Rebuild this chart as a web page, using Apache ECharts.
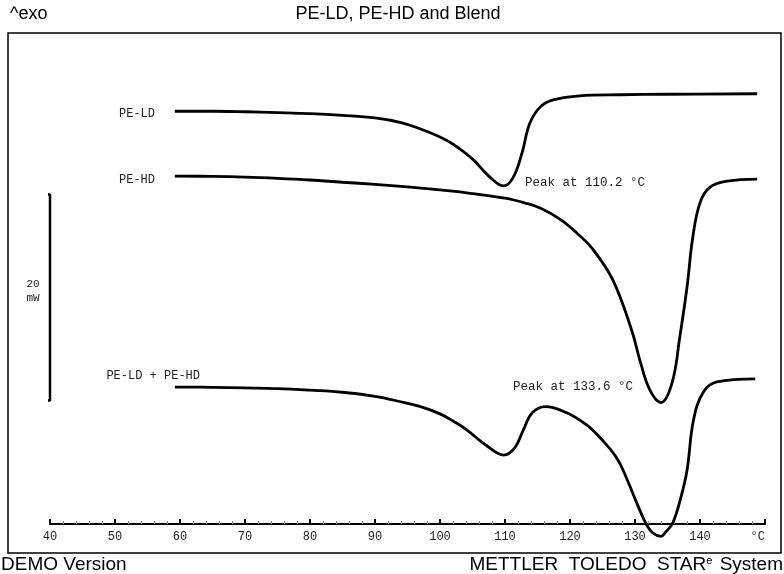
<!DOCTYPE html>
<html>
<head>
<meta charset="utf-8">
<script src="https://cdn.jsdelivr.net/npm/echarts@6/dist/echarts.min.js"></script>
<style>
  html, body { margin: 0; padding: 0; background: #fff; }
  #chart { width: 784px; height: 574px; }
</style>
</head>
<body>
<div id="chart"></div>
<script>
// temperature in degC, heat flow in mW (exo up)
var peLD = [
  [59.2, 40.1], [65, 40.1], [70, 40.05], [75, 39.97], [80, 39.87], [85, 39.7], [90, 39.45],
  [94, 39.0], [96.9, 38.4], [100, 37.6], [102, 36.9], [105.1, 35.4], [107.5, 33.8],
  [109.8, 32.85], [111.2, 33.6], [112.6, 36.0], [113.8, 38.9], [115.4, 40.5],
  [117.4, 41.2], [121.5, 41.6], [127.7, 41.7], [135, 41.75], [148.8, 41.8]
];
var peHD = [
  [59.2, 33.8], [65, 33.77], [70, 33.7], [75, 33.58], [80, 33.42], [85, 33.2], [90, 33.0],
  [95, 32.75], [100, 32.45], [105, 32.1], [110, 31.65], [113, 31.2], [115.4, 30.7],
  [118.5, 29.6], [121, 28.3], [123.5, 26.7], [126.6, 23.7], [129.5, 18.8], [130.8, 15.8],
  [132.3, 13.0], [134, 11.8], [135.7, 13.7], [136.9, 18.2], [138, 23.0],
  [138.9, 27.9], [140, 31.2], [141.5, 32.7], [144.2, 33.3], [148.8, 33.5]
];
var blend = [
  [59.2, 13.3], [65, 13.28], [70, 13.22], [75, 13.15], [80, 13.0], [85, 12.8], [90, 12.4],
  [93.8, 11.9], [97, 11.4], [100, 10.7], [102, 10.0], [104, 9.2], [107.2, 7.6],
  [109.8, 6.7], [111.5, 7.4], [112.8, 9.1], [114.2, 10.8], [116.2, 11.4], [119.5, 10.8],
  [122.6, 9.6], [124.6, 8.4], [127.2, 6.4], [128.8, 4.3], [130.3, 2.0], [131.8, -0.1],
  [132.8, -0.9], [134, -1.2], [134.7, -0.8], [135.8, 0.1], [136.9, 2.2],
  [138, 5.2], [139, 10.1], [140.5, 12.8], [142.6, 13.8], [148.5, 14.1]
];
// 20 mW scale bar at the left
var scaleBar = [[39.2, 32], [40, 32], [40, 12], [39.2, 12]];

var curveNames = ['PE-LD', 'PE-HD', 'PE-LD + PE-HD'];
var peakTexts = ['Peak at 110.2 °C', 'Peak at 133.6 °C'];

var mono = '"Liberation Mono", "DejaVu Sans Mono", monospace';
var sans = '"Liberation Sans", Arial, sans-serif';

function curve(name, data) {
  return {
    name: name,
    type: 'line',
    data: data,
    smooth: 0.4,
    symbol: 'none',
    clip: false,
    lineStyle: { color: '#000', width: 2.8 }
  };
}

var chart = echarts.init(document.getElementById('chart'));
chart.setOption({
  animation: false,
  backgroundColor: '#fff',
  grid: { left: 50, right: 19, top: 33, bottom: 50 },
  xAxis: {
    type: 'value',
    min: 40,
    max: 150,
    interval: 10,
    axisLine: { lineStyle: { color: '#000', width: 2 } },
    axisTick: { inside: true, length: 5, lineStyle: { color: '#000', width: 2 } },
    minorTick: { show: true, splitNumber: 5, length: 3, lineStyle: { color: '#888', width: 1 } },
    splitLine: { show: false },
    axisLabel: {
      margin: 7,
      color: '#222',
      fontFamily: mono,
      fontSize: 12,
      alignMaxLabel: 'right',
      formatter: function (v) { return v === 150 ? '°C' : String(v); }
    }
  },
  yAxis: {
    type: 'value',
    min: 0,
    max: 47.7,
    show: false
  },
  series: [
    curve(curveNames[0], peLD),
    curve(curveNames[1], peHD),
    curve(curveNames[2], blend),
    {
      type: 'line',
      data: scaleBar,
      symbol: 'none',
      clip: false,
      lineStyle: { color: '#000', width: 2.5 }
    }
  ],
  graphic: [
    { type: 'rect', shape: { x: 8, y: 33, width: 773, height: 520 },
      style: { fill: null, stroke: '#000', lineWidth: 1.5 }, silent: true },
    { type: 'text', x: 10, y: 14, style: { text: '^exo', font: '18px ' + sans, fill: '#000', verticalAlign: 'middle' } },
    { type: 'text', x: 398, y: 14, style: { text: 'PE-LD, PE-HD and Blend', font: '18px ' + sans, fill: '#000', align: 'center', verticalAlign: 'middle' } },
    { type: 'text', x: 1, y: 565, style: { text: 'DEMO Version', font: '19px ' + sans, fill: '#000', verticalAlign: 'middle' } },
    { type: 'text', x: 783, y: 565, style: { text: 'METTLER  TOLEDO  STAR{e|e} System', font: '19px ' + sans, fill: '#000', align: 'right', verticalAlign: 'middle',
      rich: { e: { fontSize: 11, verticalAlign: 'top', padding: [0, 2, 8, 0] } } } },
    { type: 'text', x: 155, y: 114, style: { text: curveNames[0], font: '12px ' + mono, fill: '#222', align: 'right', verticalAlign: 'middle' } },
    { type: 'text', x: 155, y: 180, style: { text: curveNames[1], font: '12px ' + mono, fill: '#222', align: 'right', verticalAlign: 'middle' } },
    { type: 'text', x: 200, y: 376, style: { text: curveNames[2], font: '12px ' + mono, fill: '#222', align: 'right', verticalAlign: 'middle' } },
    { type: 'text', x: 525, y: 183, style: { text: peakTexts[0], font: '12.5px ' + mono, fill: '#222', verticalAlign: 'middle' } },
    { type: 'text', x: 513, y: 387, style: { text: peakTexts[1], font: '12.5px ' + mono, fill: '#222', verticalAlign: 'middle' } },
    { type: 'text', x: 33, y: 284, style: { text: '20', font: '11px ' + mono, fill: '#222', align: 'center', verticalAlign: 'middle' } },
    { type: 'text', x: 33, y: 298, style: { text: 'mW', font: '11px ' + mono, fill: '#222', align: 'center', verticalAlign: 'middle' } }
  ]
});
</script>
</body>
</html>
